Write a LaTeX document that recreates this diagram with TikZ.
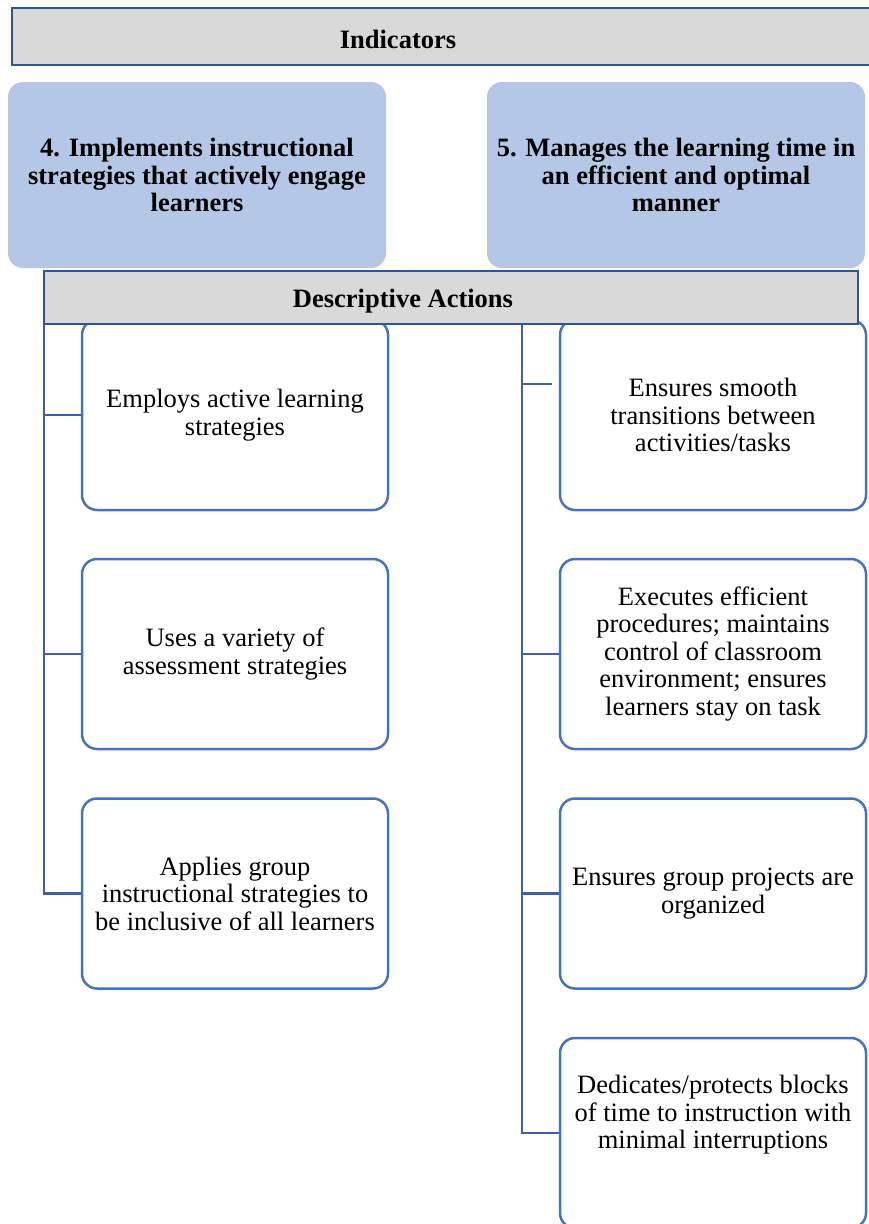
\documentclass[tikz,border=0pt]{standalone}
\usepackage{fontspec}
\setmainfont{Liberation Serif}
\definecolor{barblue}{HTML}{2F5597}
\definecolor{graybar}{HTML}{D9D9D9}
\definecolor{indblue}{HTML}{B4C7E7}
\definecolor{boxblue}{HTML}{4472C4}
\definecolor{connblue}{HTML}{3C60A9}
\begin{document}
\begin{tikzpicture}[x=1pt,y=-1pt,
  txt/.style={font={\fontsize{26.5pt}{27.5pt}\selectfont}},
  bartitle/.style={font={\fontsize{26.5pt}{27.5pt}\selectfont\bfseries}, inner sep=0pt},
  bar/.style={draw=barblue, line width=2.8pt, fill=graybar, inner sep=0pt},
  ind/.style={fill=indblue, rounded corners=15pt, minimum width=378pt, minimum height=186pt, align=center, inner sep=0pt, font={\fontsize{26.5pt}{27.5pt}\selectfont\bfseries}},
  act/.style={draw=boxblue, line width=2.5pt, rounded corners=15pt, fill=white, minimum width=306pt, minimum height=190pt, align=center, inner sep=0pt, font={\fontsize{26.5pt}{27.5pt}\selectfont}},
  conn/.style={draw=connblue, line width=2.9pt}
]
\useasboundingbox (0,0) rectangle (869,1224);
\clip (0,0) rectangle (869,1224);
\fill[white] (0,0) rectangle (869,1224);

% indicator boxes
\node[ind] (i4) at (197,175) {4. Implements instructional\\strategies that actively engage\\learners};
\node[ind] (i5) at (676,175) {5. Manages the learning time in\\an efficient and optimal\\manner};

% coordinates for connector trunks
\coordinate (ltrunk) at (44,324);
\coordinate (rtrunk) at (522,324);
\coordinate (stub) at (552,384);

% action box positions
\path (235,415) coordinate (pl1) (235,654) coordinate (pl2) (235,893.5) coordinate (pl3)
      (713,415) coordinate (pr1) (713,654) coordinate (pr2) (713,893.5) coordinate (pr3) (713,1133) coordinate (pr4);

% connectors
\draw[conn] (ltrunk) -- (ltrunk |- pl3) -- ++(38,0);
\draw[conn] (ltrunk |- pl1) -- ++(38,0);
\draw[conn] (ltrunk |- pl2) -- ++(38,0);
\draw[conn] (rtrunk) -- (rtrunk |- pr4) -- ++(38,0);
\draw[conn] (rtrunk |- stub) -- (stub);
\draw[conn] (rtrunk |- pr2) -- ++(38,0);
\draw[conn] (rtrunk |- pr3) -- ++(38,0);

\node[act] (l1) at (pl1) {\rule{0pt}{4pt}Employs active learning\\strategies};
\node[act] (l2) at (pl2) {\rule{0pt}{4pt}Uses a variety of\\assessment strategies};
\node[act] (l3) at (pl3) {\rule{0pt}{4pt}Applies group\\instructional strategies to\\be inclusive of all learners};
\node[act] (r1) at (pr1) {\rule{0pt}{4pt}Ensures smooth\\transitions between\\activities/tasks};
\node[act] (r2) at (pr2) {\rule{0pt}{4pt}Executes efficient\\procedures; maintains\\control of classroom\\environment; ensures\\learners stay on task};
\node[act] (r3) at (pr3) {\rule{0pt}{4pt}Ensures group projects are\\organized};
\node[act] (r4) at (pr4) {};
\node[txt, align=center, inner sep=0pt] (r4t) at (713,1115) {Dedicates/protects blocks\\of time to instruction with\\minimal interruptions};

% bars
\node[bar, minimum width=880pt, minimum height=57pt] (indbar) at (452,36.5) {};
\node[bartitle] (indlabel) at (398,39) {Indicators};
\node[bar, minimum width=814pt, minimum height=53pt] (descbar) at (451,297.5) {};
\node[bartitle] (desclabel) at (403,301) {Descriptive Actions};
\end{tikzpicture}
\end{document}
